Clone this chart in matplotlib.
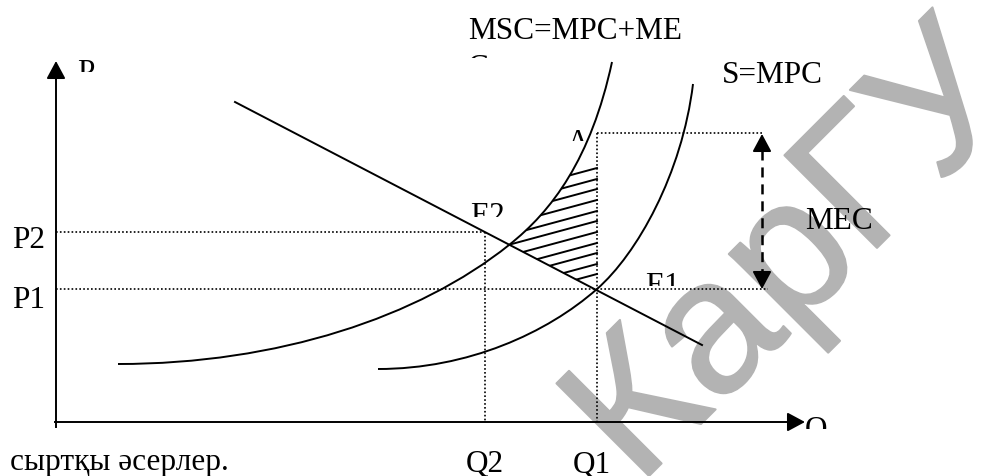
import matplotlib
matplotlib.use("Agg")
import matplotlib.pyplot as plt
import matplotlib.patheffects as pe
from matplotlib.path import Path
from matplotlib.patches import PathPatch
from matplotlib.transforms import Bbox

plt.rcParams['lines.scale_dashes'] = False

# все координаты в пикселях картинки (y вниз)
# кривая спроса D
demand_x = [235, 702]
demand_y = [103, 346]

# MSC = MPC + MEC : две кубические кривые Безье (узлы + контрольные точки)
msc_pts = [(118, 365), (278, 365), (419, 318), (509, 246),
           (552, 212), (591, 160), (612, 63)]
# S = MPC
mpc_pts = [(378, 370), (468, 370), (547, 334), (597, 290),
           (637, 255), (682, 175), (693, 85)]

# уровни цен и объёмов
p1_y, p2_y, a_y = 290, 233, 134
q1_x, q2_x = 597, 485
axis_x0, axis_y0 = 56, 423
mec_x = 762

# штриховка: правые концы линий на Q1
hatch_ends = [169, 180, 190, 201, 212, 222, 233, 244, 254, 265, 275]
hatch_slope = 0.27

labels = [
    # текст, x, y(baseline), обрезка снизу
    ("MSC=MPC+ME", 468, 39, None),
    ("C", 468, 76, 59),
    ("S=MPC", 722, 83, None),
    ("P", 77, 81, 73),
    ("Q", 805, 438, 430),
    ("A", 567, 151, 142),
    ("E2", 470, 224, 218),
    ("E1", 645, 294, 287),
    ("MEC", 805, 229, None),
    ("P2", 12, 248, None),
    ("P1", 12, 308, None),
    ("Q2", 466, 472, None),
    ("Q1", 573, 473, None),
    ("сыртқы әсерлер.", 10, 470, None),
]

fig = plt.figure(figsize=(9.84, 4.77), dpi=100)
ax = fig.add_axes([0, 0, 1, 1])
ax.set_xlim(0, 984)
ax.set_ylim(477, 0)
ax.axis('off')

# водяной знак
wm_color = '#b3b3b3'
ax.text(638, 488, 'КарГУ', rotation=45, rotation_mode='anchor', ha='left', va='baseline',
        fontsize=137, color=wm_color, family='Liberation Sans', zorder=0,
        path_effects=[pe.withStroke(linewidth=1.5, foreground=wm_color)])

dot = (0, (1.2, 1.6))
dlw = 1.2
ax.plot([axis_x0, q2_x], [p2_y, p2_y], color='k', lw=dlw, ls=dot)
ax.plot([axis_x0, 768], [p1_y, p1_y], color='k', lw=dlw, ls=dot)
ax.plot([q1_x, mec_x], [a_y, a_y], color='k', lw=dlw, ls=dot)
ax.plot([q2_x, q2_x], [p2_y, axis_y0], color='k', lw=dlw, ls=dot)
ax.plot([q1_x, q1_x], [a_y, axis_y0], color='k', lw=dlw, ls=dot)

codes = [Path.MOVETO] + [Path.CURVE4] * 6
for pts in (msc_pts, mpc_pts):
    ax.add_patch(PathPatch(Path(pts, codes), fill=False, lw=1.4, ec='k', zorder=3))
ax.plot(demand_x, demand_y, color='k', lw=1.4, zorder=3)

# область штриховки: правее MSC и выше спроса
k = (demand_y[1] - demand_y[0]) / (demand_x[1] - demand_x[0])
clip_verts = msc_pts[3:] + [(900, 63), (900, demand_y[0] + k * (900 - demand_x[0])), msc_pts[3]]
clip_codes = [Path.MOVETO] + [Path.CURVE4] * 3 + [Path.LINETO, Path.LINETO, Path.CLOSEPOLY]
clip = PathPatch(Path(clip_verts, clip_codes), transform=ax.transData, fc='none', ec='none')
ax.add_patch(clip)
for ye in hatch_ends:
    ln, = ax.plot([q1_x - 200, q1_x], [ye + hatch_slope * 200, ye], color='k', lw=1.4, zorder=2)
    ln.set_clip_path(clip)

# оси
arrow = dict(arrowstyle='-|>,head_length=10.8,head_width=5.8', color='k', lw=1.4,
             shrinkA=0, shrinkB=0, mutation_scale=1)
ax.plot([axis_x0, axis_x0], [428, 75], color='k', lw=1.4)
ax.annotate('', xy=(axis_x0, 62), xytext=(axis_x0, 80), arrowprops=arrow)
ax.plot([axis_x0 - 1, 792], [axis_y0, axis_y0], color='k', lw=1.4)
ax.annotate('', xy=(805, axis_y0), xytext=(788, axis_y0), arrowprops=arrow)

# MEC
ax.plot([mec_x, mec_x], [151, 276], color='k', lw=1.8, ls=(0, (7.2, 5.0)))
ax.annotate('', xy=(mec_x, a_y + 1), xytext=(mec_x, a_y + 18), arrowprops=arrow)
ax.annotate('', xy=(mec_x, p1_y), xytext=(mec_x, p1_y - 17), arrowprops=arrow)

for s, x, y, cut in labels:
    t = ax.text(x, y, s, fontsize=22.5, family='Liberation Serif', ha='left', va='baseline',
                color='k', zorder=4)
    if cut is not None:
        xa, ya = ax.transData.transform((x - 5, cut))
        xb, yb = ax.transData.transform((x + 300, y - 45))
        t.set_clip_path(None)
        t.set_clip_box(Bbox.from_extents(min(xa, xb), min(ya, yb), max(xa, xb), max(ya, yb)))
        t.set_clip_on(True)

fig.savefig('out.png', dpi=100)
